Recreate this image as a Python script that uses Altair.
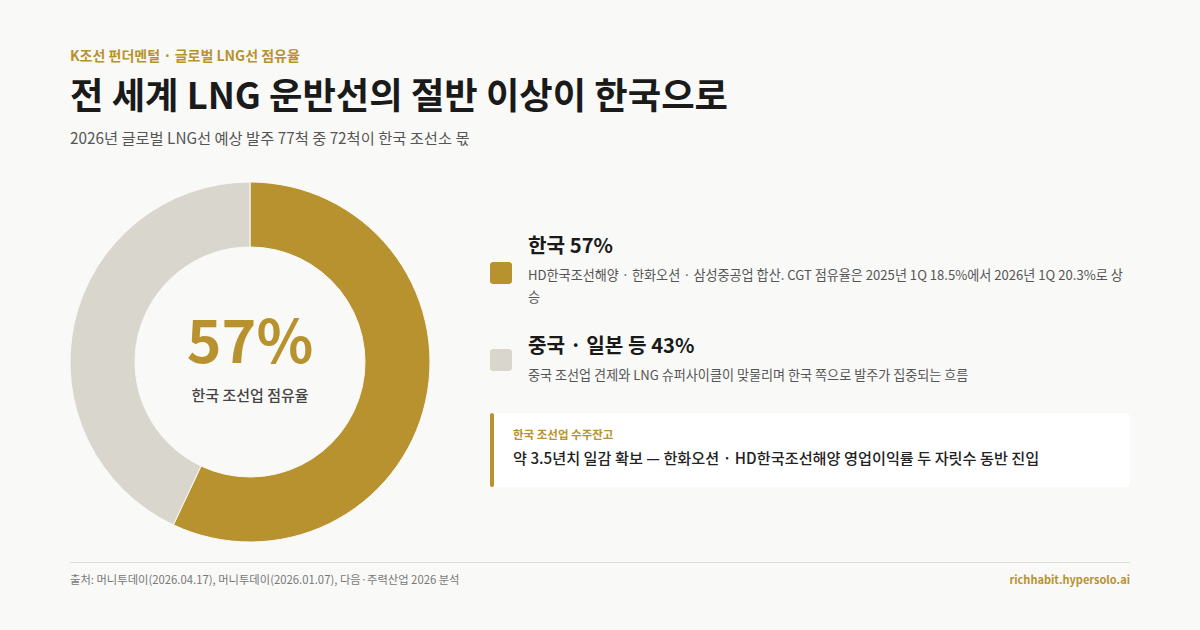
import altair as alt
import pandas as pd

# ---- data ----
regions = ["한국", "중국 · 일본 등"]
shares = [57, 43]
colors = ["#b8922e", "#d9d6cd"]
order_idx = [0, 1]

legend_titles = ["한국 57%", "중국 · 일본 등 43%"]
legend_desc = [
    ["HD한국조선해양 · 한화오션 · 삼성중공업 합산. CGT 점유율은 2025년 1Q 18.5%에서 2026년 1Q 20.3%로 상", "승"],
    ["중국 조선업 견제와 LNG 슈퍼사이클이 맞물리며 한국 쪽으로 발주가 집중되는 흐름"],
]

kicker = "K조선 펀더멘털 · 글로벌 LNG선 점유율"
title = "전 세계 LNG 운반선의 절반 이상이 한국으로"
subtitle = "2026년 글로벌 LNG선 예상 발주 77척 중 72척이 한국 조선소 몫"
center_big = "57%"
center_small = "한국 조선업 점유율"
card_label = "한국 조선업 수주잔고"
card_text = "약 3.5년치 일감 확보 — 한화오션 · HD한국조선해양 영업이익률 두 자릿수 동반 진입"
source = "출처: 머니투데이(2026.04.17), 머니투데이(2026.01.07), 다음·주력산업 2026 분석"
brand = "richhabit.hypersolo.ai"

FONT = "Noto Sans CJK KR"
GOLD = "#b8922e"
BG = "#f9f9f7"

df = pd.DataFrame({"region": regions, "share": shares, "ord": order_idx})
one = pd.DataFrame({"d": [0]})

donut = alt.Chart(df).mark_arc(outerRadius=180, innerRadius=115, stroke=BG, strokeWidth=1).encode(
    theta=alt.Theta("share:Q", stack=True),
    color=alt.Color("region:N", scale=alt.Scale(domain=regions, range=colors), legend=None),
    order=alt.Order("ord:Q"),
    x=alt.value(250),
    y=alt.value(362),
)


def txt(s, x, y, size, color, weight="normal", align="left", baseline="middle"):
    return alt.Chart(one).mark_text(
        font=FONT, fontSize=size, color=color, fontWeight=weight, align=align, baseline=baseline
    ).encode(x=alt.value(x), y=alt.value(y), text=alt.value(s))


def box(x, x2, y, y2, color, r=0):
    return alt.Chart(one).mark_rect(color=color, cornerRadius=r).encode(
        x=alt.value(x), x2=alt.value(x2), y=alt.value(y), y2=alt.value(y2)
    )


layers = [donut]
layers.append(txt(kicker, 70, 57, 14, GOLD, "bold"))
layers.append(txt(title, 70, 98, 36.3, "#1a1a1a", "bold"))
layers.append(txt(subtitle, 70, 139, 15.3, "#555555"))
layers.append(txt(center_big, 250, 345, 59, GOLD, "bold", "center"))
layers.append(txt(center_small, 250, 396, 15, "#444444", 500, "center"))

# legend
sq_y = [273, 360]
title_y = [247, 347]
desc_y = [[276, 298], [376]]
for i in range(2):
    layers.append(box(490, 512, sq_y[i] - 11, sq_y[i] + 11, colors[i], 3))
    layers.append(txt(legend_titles[i], 528, title_y[i], 20.2, "#1a1a1a", "bold"))
    for line, yy in zip(legend_desc[i], desc_y[i]):
        layers.append(txt(line, 528, yy, 13.1, "#555555"))

# card
layers.append(box(490, 1130, 413, 487, "#ffffff", 4))
layers.append(box(490, 494, 413, 487, GOLD, 2))
layers.append(txt(card_label, 513, 436, 11.5, GOLD, "bold"))
layers.append(txt(card_text, 513, 459, 15.2, "#222222", 500))

# footer
layers.append(box(70, 1130, 562, 563, "#dddddd"))
layers.append(txt(source, 70, 581, 11.3, "#777777"))
layers.append(txt(brand, 1130, 581, 11, GOLD, "bold", "right"))

chart = alt.layer(*layers).properties(
    width=1200, height=630, autosize=alt.AutoSizeParams(type="none"), padding=0, background=BG
).configure_view(stroke=None)

chart.save("out.html", embed_options={"renderer": "svg", "actions": False})
